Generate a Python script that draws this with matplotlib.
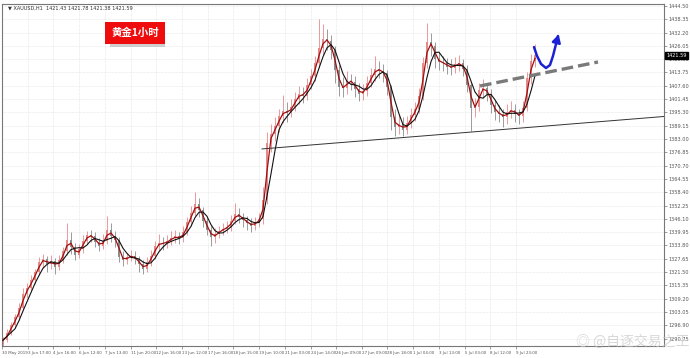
import matplotlib
matplotlib.use('Agg')
import matplotlib.pyplot as plt
from matplotlib.patches import Rectangle
import numpy as np
import pandas as pd

plt.rcParams['font.family'] = ['DejaVu Sans', 'Noto Sans CJK SC']

# XAUUSD H1, one candle every few bars
closes = [1290.0, 1293.5, 1297.0, 1300.5, 1305.0, 1311.5, 1314.0, 1318.0, 1321.5, 1326.0,
          1327.5, 1325.0, 1326.5, 1324.0, 1327.0, 1331.0, 1336.5, 1333.0, 1329.5, 1332.0,
          1336.0, 1338.5, 1338.0, 1335.5, 1333.5, 1336.0, 1341.0, 1338.0, 1336.5, 1328.5,
          1327.0, 1328.5, 1329.0, 1327.5, 1325.0, 1323.0, 1326.0, 1329.0, 1333.5, 1335.0,
          1334.5, 1336.0, 1337.0, 1338.0, 1337.0, 1340.0, 1344.5, 1349.0, 1353.0, 1350.0,
          1345.0, 1341.0, 1337.5, 1339.0, 1340.5, 1341.5, 1342.5, 1345.0, 1348.5, 1347.0,
          1345.5, 1344.0, 1343.0, 1344.5, 1346.0, 1355.0, 1381.0, 1385.5, 1389.0, 1393.5,
          1396.0, 1395.0, 1398.0, 1401.5, 1404.0, 1403.0, 1408.0, 1412.0, 1418.0, 1425.0,
          1429.0, 1428.5, 1424.0, 1415.0, 1407.0, 1406.5, 1410.0, 1409.5, 1406.0, 1404.0,
          1405.0, 1409.0, 1412.5, 1415.5, 1414.5, 1413.5, 1407.0, 1393.0, 1388.5, 1390.0,
          1387.0, 1390.5, 1394.0, 1397.0, 1403.0, 1418.0, 1428.0, 1426.0, 1420.0, 1418.5,
          1418.0, 1416.5, 1416.0, 1417.5, 1418.0, 1415.5, 1408.0, 1397.5, 1398.0, 1405.5,
          1406.5, 1404.0, 1398.5, 1395.5, 1394.5, 1393.0, 1395.5, 1396.5, 1394.5, 1393.5,
          1397.5, 1411.0, 1419.0, 1421.6]
highs = [1291.5, 1295.0, 1298.5, 1302.0, 1307.0, 1314.0, 1316.5, 1320.0, 1323.0, 1328.5,
         1330.0, 1329.0, 1329.5, 1328.0, 1329.5, 1333.0, 1344.0, 1340.0, 1335.0, 1334.5,
         1338.5, 1340.5, 1341.0, 1340.0, 1337.0, 1339.0, 1347.5, 1344.0, 1340.5, 1337.5,
         1331.0, 1330.5, 1331.5, 1331.0, 1329.0, 1327.0, 1328.5, 1331.5, 1336.0, 1339.0,
         1337.5, 1338.5, 1340.5, 1341.0, 1340.0, 1343.0, 1347.0, 1352.0, 1358.5, 1355.5,
         1351.5, 1347.0, 1343.0, 1342.0, 1343.0, 1344.0, 1345.0, 1348.0, 1353.5, 1351.0,
         1349.0, 1347.5, 1346.5, 1347.0, 1349.0, 1361.0, 1386.0, 1390.0, 1393.0, 1397.0,
         1403.5, 1400.0, 1401.5, 1404.5, 1407.5, 1407.0, 1411.0, 1415.5, 1421.5, 1438.5,
         1436.0, 1434.0, 1431.0, 1426.0, 1417.0, 1411.5, 1414.5, 1413.0, 1412.0, 1409.0,
         1408.5, 1412.0, 1416.0, 1421.5, 1419.0, 1417.5, 1415.0, 1408.0, 1397.0, 1394.0,
         1393.0, 1393.5, 1397.5, 1400.0, 1406.5, 1421.0, 1436.5, 1432.0, 1428.0, 1423.0,
         1421.5, 1420.5, 1420.0, 1421.0, 1422.0, 1420.0, 1417.0, 1409.0, 1402.0, 1409.0,
         1410.5, 1409.0, 1406.0, 1401.0, 1398.5, 1397.0, 1399.0, 1400.5, 1399.0, 1397.0,
         1400.5, 1414.0, 1422.5, 1427.0]
lows = [1286.5, 1289.0, 1292.5, 1295.5, 1299.5, 1304.0, 1309.5, 1312.5, 1316.0, 1320.0,
        1323.5, 1321.5, 1323.0, 1320.5, 1322.5, 1325.5, 1329.5, 1330.0, 1327.0, 1328.0,
        1330.5, 1334.5, 1335.5, 1333.0, 1331.0, 1332.0, 1334.5, 1335.5, 1333.0, 1326.0,
        1324.5, 1325.0, 1326.5, 1325.0, 1321.5, 1320.5, 1321.5, 1324.5, 1327.5, 1331.0,
        1331.5, 1332.5, 1334.0, 1335.0, 1334.5, 1335.5, 1338.5, 1343.0, 1347.5, 1347.0,
        1342.5, 1338.5, 1333.5, 1335.0, 1337.0, 1338.5, 1339.5, 1340.5, 1343.5, 1344.0,
        1342.5, 1341.0, 1340.0, 1341.0, 1342.5, 1343.5, 1353.0, 1377.0, 1382.0, 1386.0,
        1390.5, 1391.0, 1393.0, 1396.0, 1399.0, 1399.5, 1401.0, 1406.0, 1410.0, 1416.0,
        1422.0, 1424.0, 1420.0, 1409.0, 1403.0, 1402.5, 1404.0, 1405.5, 1402.5, 1400.5,
        1401.0, 1403.0, 1407.0, 1410.0, 1411.0, 1409.5, 1403.5, 1387.0, 1384.5, 1385.5,
        1384.5, 1385.5, 1388.0, 1391.5, 1395.0, 1401.0, 1416.0, 1421.5, 1416.0, 1415.0,
        1414.5, 1413.0, 1412.5, 1413.5, 1414.5, 1412.0, 1404.5, 1386.5, 1393.0, 1396.0,
        1402.0, 1400.5, 1395.0, 1392.0, 1391.0, 1388.5, 1390.0, 1392.5, 1391.0, 1390.0,
        1391.0, 1396.0, 1408.5, 1416.5]
first_open = 1288.0

price_ticks = [1444.50, 1438.35, 1432.20, 1426.05, 1419.90, 1413.75, 1407.60, 1401.45,
               1395.30, 1389.15, 1383.00, 1376.85, 1370.70, 1364.55, 1358.40, 1352.25,
               1346.10, 1339.95, 1333.80, 1327.65, 1321.50, 1315.35, 1309.20, 1303.05,
               1296.90, 1290.75]
time_labels = ['30 May 2019', '3 Jun 17:00', '4 Jun 16:00', '6 Jun 12:00', '7 Jun 13:00',
               '11 Jun 20:00', '12 Jun 16:00', '13 Jun 12:00', '17 Jun 16:00', '18 Jun 15:00',
               '19 Jun 10:00', '21 Jun 03:00', '24 Jun 14:00', '26 Jun 09:00', '27 Jun 09:00',
               '28 Jun 18:00', '1 Jul 04:00', '3 Jul 13:00', '5 Jul 03:00', '8 Jul 12:00',
               '9 Jul 23:00']
time_pos = [-0.25, 6.2, 12.6, 19.0, 25.5, 31.9, 38.3, 44.7, 51.2, 57.6, 64.0, 70.4,
            76.9, 83.3, 89.7, 96.1, 102.6, 109.0, 115.4, 121.8, 128.3]

last_price = 1421.59

# support line under the lows, and the neckline (dashed)
support_x = [64.75, 165.25]
support_y = [1378.4, 1393.4]
neck_x = [119.25, 148.75]
neck_y = [1407.5, 1418.6]
# hand drawn blue "dip then up" arrow
arrow_x = [132.75, 133.5, 134.5, 135.75, 136.75, 137.5, 138.25, 138.75]
arrow_y = [1425.5, 1421.4, 1417.7, 1415.8, 1417.2, 1421.4, 1426.9, 1430.6]

c = np.array(closes)
o = np.concatenate([[first_open], c[:-1]])
h = np.array(highs)
l = np.array(lows)
x = np.arange(len(c))
up = c >= o

fig = plt.figure(figsize=(6.9, 3.58), dpi=100)
ax = fig.add_axes([2 / 690, 1 - 346 / 358, 662 / 690, 342 / 358])

ax.set_xlim(-0.25, 165.25)
ax.set_ylim(1287.3, 1445.4)

cols = np.where(up, '#e58a8a', '#8c8c8c')
ax.vlines(x, l, h, colors=cols, linewidth=0.6, zorder=2)
ax.bar(x, np.maximum(np.abs(c - o), 0.3), bottom=np.minimum(o, c), width=0.55,
       color=cols, linewidth=0, zorder=2)

s = pd.Series(c)
ax.plot(x, s.rolling(2, min_periods=1).mean(), color='#a01010', linewidth=0.9, zorder=3)
ax.plot(x, s.rolling(4, min_periods=1).mean(), color='#111111', linewidth=0.8, zorder=3)

ax.plot(support_x, support_y, color='#333333', linewidth=0.7, zorder=3)
ax.plot(neck_x, neck_y, color='#7a7a7a', linewidth=2.4, linestyle=(0, (3.5, 1.5)), zorder=4)
ax.plot(arrow_x, arrow_y, color='#1c22d4', linewidth=1.8, solid_capstyle='round', zorder=5)
ax.annotate('', xy=(139.1, 1432.6), xytext=(arrow_x[-2], arrow_y[-2]),
            arrowprops=dict(arrowstyle='-|>,head_width=0.25,head_length=0.45',
                            color='#1c22d4', lw=1.8), zorder=5)

# axes in MT4 style
ax.yaxis.tick_right()
ax.set_yticks(price_ticks)
ax.set_yticklabels(['%.2f' % v for v in price_ticks], fontsize=3.6, color='#555555')
ax.set_xticks(time_pos)
ax.set_xticklabels(time_labels, fontsize=2.9, color='#555555', ha='left')
ax.tick_params(axis='both', length=2, width=0.5, color='#777777', pad=1.5)
ax.grid(True, color='#e2e2e2', linewidth=0.5, linestyle=(0, (1, 1)))
ax.set_axisbelow(True)
for sp in ax.spines.values():
    sp.set_color('#777777')
    sp.set_linewidth(0.8)

ax.text(1.004, (last_price - 1287.3) / (1445.4 - 1287.3), '%.2f' % last_price,
        transform=ax.transAxes, fontsize=3.6, color='white', va='center', ha='left',
        bbox=dict(boxstyle='square,pad=0.25', fc='black', ec='black'))

fig.text(8 / 690, 1 - 8 / 358, '\u25bc XAUUSD,H1  1421.43 1421.78 1421.38 1421.59',
         fontsize=3.6, color='#333333', va='center', ha='left')

# red title tag with a little shadow
fig.patches.append(Rectangle((110 / 690, 1 - 47 / 358), 55 / 690, 23 / 358,
                             transform=fig.transFigure, fc='#b0b0b0', ec='none',
                             alpha=0.6, zorder=1))
fig.text(135 / 690, 1 - 33 / 358, '黄金1小时', fontsize=7.5, fontweight='bold',
         family=['Noto Sans CJK SC'], color='white', ha='center', va='center',
         bbox=dict(boxstyle='square,pad=0.55', fc='#ee0c0c', ec='none'), zorder=3)

# weibo watermark
fig.text(576 / 690, 1 - 342 / 358, '◎ @自逐交易之王', fontsize=10,
         family=['Noto Sans CJK SC', 'DejaVu Sans'], color='#c8c8c8', alpha=0.7,
         ha='left', va='center')

fig.savefig('out.png', dpi=100)
